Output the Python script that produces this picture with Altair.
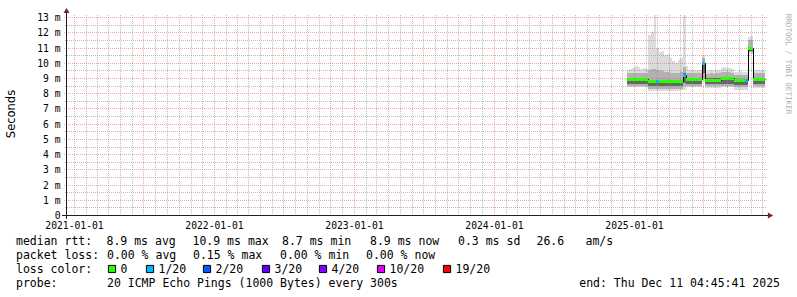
import altair as alt
import pandas as pd

# ---------------- data ----------------
week_start = [
    "2024-12-13", "2024-12-20", "2024-12-27",
    "2025-01-03", "2025-01-10", "2025-01-17", "2025-01-24", "2025-01-31",
    "2025-02-07", "2025-02-14", "2025-02-21", "2025-02-28",
    "2025-03-07", "2025-03-14", "2025-03-21", "2025-03-28",
    "2025-04-04", "2025-04-11", "2025-04-18", "2025-04-25",
    "2025-05-02", "2025-05-09", "2025-05-16", "2025-05-23", "2025-05-30",
    "2025-06-06", "2025-06-13", "2025-06-20", "2025-06-27",
    "2025-07-04", "2025-07-11", "2025-07-18", "2025-07-25",
    "2025-08-01", "2025-08-08", "2025-08-15", "2025-08-22", "2025-08-29",
    "2025-09-05", "2025-09-12", "2025-09-19", "2025-09-26",
    "2025-10-03", "2025-10-10", "2025-10-17", "2025-10-24", "2025-10-31",
    "2025-11-07", "2025-11-14", "2025-11-21", "2025-11-28",
    "2025-12-05",
]
data_end = "2025-12-09"

# smoke (ms): outer light band max/min, middle band, dark band, median
smoke_max = [9.55, 9.6, 9.65, 9.8, 9.75, 9.6, 9.65, 9.6,
             11.8, 12.0, 13.3, 11.0, 10.7, 10.8, 10.5, 10.6,
             10.3, 10.1, 10.0, 10.2, 10.3, 13.2,
             9.8, 9.55, 9.5, 9.5, 9.55, 9.5, 10.5,
             9.45, 9.45, 9.5, 9.45, 9.5, 9.55,
             9.65, 9.7, 9.65, 9.65, 9.6,
             9.4, 9.4, 9.45, 9.4, 9.4,
             11.7, 11.75,
             9.5, 9.5, 9.5, 9.55, 9.5]
smoke_hi2 = [9.3, 9.3, 9.3, 9.35, 9.3, 9.3, 9.3, 9.3,
             9.5, 9.6, 9.6, 9.5, 9.5, 9.45, 9.4, 9.4,
             9.35, 9.3, 9.3, 9.35, 9.4, 9.7,
             9.35, 9.3, 9.3, 9.3, 9.3, 9.3, 10.3,
             9.25, 9.25, 9.3, 9.25, 9.3, 9.3,
             9.4, 9.4, 9.4, 9.4, 9.35,
             9.2, 9.2, 9.2, 9.2, 9.2,
             11.5, 11.5,
             9.3, 9.3, 9.3, 9.3, 9.3]
smoke_hi1 = [9.0, 9.0, 9.0, 9.0, 9.0, 9.0, 9.0, 9.0,
             8.9, 8.9, 8.9, 8.9, 8.9, 8.9, 8.9, 8.9,
             8.9, 8.9, 8.9, 8.9, 8.9, 9.3,
             9.0, 9.0, 9.0, 9.0, 9.0, 9.0, 10.05,
             8.97, 8.97, 8.97, 8.97, 8.97, 8.97,
             9.08, 9.08, 9.08, 9.08, 9.08,
             8.95, 8.95, 8.95, 8.95, 8.95,
             11.03, 11.03,
             9.0, 9.0, 9.0, 9.0, 9.0]
median_rtt = [8.93, 8.93, 8.93, 8.93, 8.93, 8.93, 8.93, 8.93,
              8.8, 8.8, 8.8, 8.8, 8.8, 8.8, 8.8, 8.8,
              8.8, 8.8, 8.8, 8.8, 8.8, 9.2,
              8.93, 8.93, 8.93, 8.93, 8.93, 8.93, 10.0,
              8.88, 8.88, 8.88, 8.88, 8.88, 8.88,
              9.0, 9.0, 9.0, 9.0, 9.0,
              8.87, 8.87, 8.87, 8.87, 8.87,
              10.95, 10.95,
              8.93, 8.93, 8.93, 8.93, 8.93]
smoke_lo1 = [8.6, 8.6, 8.6, 8.6, 8.6, 8.6, 8.6, 8.6,
             8.45, 8.45, 8.45, 8.45, 8.45, 8.45, 8.45, 8.45,
             8.45, 8.45, 8.45, 8.45, 8.45, 8.7,
             8.6, 8.6, 8.6, 8.6, 8.6, 8.6, 9.3,
             8.58, 8.58, 8.58, 8.58, 8.58, 8.58,
             8.62, 8.62, 8.62, 8.62, 8.62,
             8.52, 8.52, 8.52, 8.52, 8.52,
             10.8, 10.8,
             8.6, 8.6, 8.6, 8.6, 8.6]
smoke_lo2 = [8.5, 8.5, 8.5, 8.5, 8.5, 8.5, 8.5, 8.5,
             8.3, 8.3, 8.3, 8.3, 8.3, 8.3, 8.3, 8.3,
             8.3, 8.3, 8.3, 8.3, 8.3, 8.5,
             8.5, 8.5, 8.5, 8.5, 8.5, 8.5, 9.0,
             8.45, 8.45, 8.45, 8.45, 8.45, 8.45,
             8.5, 8.5, 8.5, 8.5, 8.5,
             8.38, 8.38, 8.38, 8.38, 8.38,
             10.7, 10.7,
             8.48, 8.48, 8.48, 8.48, 8.48]
smoke_min = [8.4, 8.4, 8.4, 8.4, 8.4, 8.4, 8.4, 8.4,
             8.15, 8.15, 8.15, 8.15, 8.15, 8.15, 8.15, 8.15,
             8.15, 8.15, 8.15, 8.15, 8.2, 8.2,
             8.38, 8.38, 8.38, 8.38, 8.38, 8.38, 8.75,
             8.35, 8.35, 8.35, 8.35, 8.35, 8.35,
             8.4, 8.4, 8.4, 8.4, 8.4,
             8.22, 8.22, 8.22, 8.22, 8.22,
             10.6, 10.6,
             8.35, 8.35, 8.35, 8.35, 8.35]
loss_bucket = ["0", "0", "0", "0", "0", "0", "0", "0",
               "0", "0", "0", "1/20", "0", "0", "0", "0",
               "0", "0", "0", "0", "0", "1/20",
               "0", "0", "0", "0", "0", "0", "1/20",
               "0", "0", "0", "0", "0", "0",
               "0", "0", "0", "0", "0",
               "0", "0", "0", "0", "1/20",
               "0", "0",
               "0", "0", "0", "0", "0"]

loss_labels = ["0", "1/20", "2/20", "3/20", "4/20", "10/20", "19/20"]
loss_colors = ["#26ff00", "#00b8ff", "#0059ff", "#5e00ff", "#7e00ff", "#dd00ff", "#ff0000"]

y_tick_values = list(range(0, 14))
x_label_years = [2021, 2022, 2023, 2024, 2025]

stats_rtt = ["8.9 ms avg", "10.9 ms max", "8.7 ms min", "8.9 ms now", "0.3 ms sd", "26.6", "am/s"]
stats_loss = ["0.00 % avg", "0.15 % max", "0.00 % min", "0.00 % now"]
probe_text = "20 ICMP Echo Pings (1000 Bytes) every 300s"
end_text = "end: Thu Dec 11 04:45:41 2025"

# ---------------- layout ----------------
MONO = "DejaVu Sans Mono"
SANS = "DejaVu Sans"
W, H = 700, 200
OX, OY = 66, 15
Y_TOP = 13.14

df = pd.DataFrame({
    "date": week_start,
    "end": week_start[1:] + [data_end],
    "mx": smoke_max, "hi2": smoke_hi2, "hi1": smoke_hi1,
    "med": median_rtt, "lo1": smoke_lo1, "lo2": smoke_lo2, "mn": smoke_min,
    "loss": loss_bucket,
})
closing = df.iloc[[-1]].copy()
closing["date"] = data_end
df_area = pd.concat([df, closing], ignore_index=True)

months = [d.strftime("%Y-%m-%d") for d in pd.date_range("2021-01-01", "2025-12-01", freq="MS")]
majors = [m for m in months if m[5:7] in ("01", "07")]
minors = [m for m in months if m not in majors]
grid_minor_v = pd.DataFrame({"m": minors})
grid_major_v = pd.DataFrame({"m": majors})
grid_minor_h = pd.DataFrame({"v": [v + 0.5 for v in range(0, 13)]})
grid_major_h = pd.DataFrame({"v": list(range(1, 14))})

xs = alt.Scale(type="utc", nice=False, round=True, domain=[
    alt.DateTime(year=2020, month=12, date=11, hours=4, minutes=45, seconds=41, utc=True),
    alt.DateTime(year=2025, month=12, date=11, hours=4, minutes=45, seconds=41, utc=True)])
ys = alt.Scale(domain=[0, Y_TOP], nice=False, zero=False, round=True)

x_axis = alt.Axis(values=[alt.DateTime(year=y, month=1, date=1, utc=True) for y in x_label_years],
                  format="%Y-%m-%d", labelFlush=False, labelOverlap=False, grid=False,
                  domain=False, ticks=False, labelPadding=5, title=None,
                  labelFont=MONO, labelFontSize=9.7, labelColor="#000000")
y_axis = alt.Axis(values=y_tick_values, labelExpr="datum.value == 0 ? '0' : datum.value + ' m'",
                  grid=False, domain=False, ticks=False, labelPadding=6, title=None,
                  labelFont=MONO, labelFontSize=9.7, labelColor="#000000")

X = lambda f: alt.X(f, scale=xs, axis=None)
Y = lambda f: alt.Y(f, scale=ys, axis=None)

band_outer = alt.Chart(df_area).mark_area(interpolate="step-after", color="#dcdcdc", clip=True).encode(
    x=alt.X("date:T", scale=xs, axis=x_axis), y=alt.Y("mn:Q", scale=ys, axis=y_axis), y2="mx:Q")
band_mid = alt.Chart(df_area).mark_area(interpolate="step-after", color="#b2b2b2", clip=True).encode(
    x=X("date:T"), y=Y("lo2:Q"), y2="hi2:Q")
band_dark = alt.Chart(df_area).mark_area(interpolate="step-after", color="#666666", clip=True).encode(
    x=X("date:T"), y=Y("lo1:Q"), y2="hi1:Q")

g_minor_v = alt.Chart(grid_minor_v).mark_rule(color="#8f8f8f", opacity=0.6, strokeDash=[1, 1], xOffset=0.5).encode(
    x=X("m:T"), y=alt.value(0), y2=alt.value(H))
g_minor_h = alt.Chart(grid_minor_h).mark_rule(color="#8f8f8f", opacity=0.6, strokeDash=[1, 1], yOffset=0.5).encode(
    y=Y("v:Q"), x=alt.value(-1), x2=alt.value(W + 1))
g_major_v = alt.Chart(grid_major_v).mark_rule(color="#de4f4f", opacity=0.5, strokeDash=[1, 1], xOffset=0.5).encode(
    x=X("m:T"), y=alt.value(0), y2=alt.value(H + 2))
g_major_h = alt.Chart(grid_major_h).mark_rule(color="#de4f4f", opacity=0.5, strokeDash=[1, 1], yOffset=0.5).encode(
    y=Y("v:Q"), x=alt.value(-2), x2=alt.value(W + 2))

median_black = alt.Chart(df_area).mark_line(interpolate="step-after", color="#000000", strokeWidth=1, clip=True,
                                            xOffset=0.5, yOffset=0.5).encode(
    x=X("date:T"), y=Y("med:Q"))
median_color = alt.Chart(df).mark_rule(strokeWidth=3, clip=True, yOffset=0.5).encode(
    x=X("date:T"), x2="end:T", y=Y("med:Q"),
    color=alt.Color("loss:N", scale=alt.Scale(domain=loss_labels, range=loss_colors), legend=None))

one = pd.DataFrame({"k": [0]})
x_axis_line = alt.Chart(one).mark_rule(color="#1f1f1f", strokeWidth=1).encode(
    x=alt.value(-4), x2=alt.value(W + 4), y=alt.value(H + 0.5))
y_axis_line = alt.Chart(one).mark_rule(color="#1f1f1f", strokeWidth=1).encode(
    x=alt.value(0.5), y=alt.value(H + 4), y2=alt.value(-4))
arrow_up = alt.Chart(one).mark_point(shape="triangle-up", filled=True, size=36, color="#801f1f", opacity=1).encode(
    x=alt.value(0.5), y=alt.value(-4.5))
arrow_right = alt.Chart(one).mark_point(shape="triangle-right", filled=True, size=36, color="#801f1f", opacity=1).encode(
    x=alt.value(W + 4.5), y=alt.value(H + 0.5))


def text_item(s, px, py, size=11.5, align="left", font=MONO, color="#000000", angle=0, baseline="alphabetic"):
    return alt.Chart(one).mark_text(text=s.replace(" ", "\u00a0"), align=align, baseline=baseline, font=font,
                                    fontSize=size, color=color, angle=angle).encode(
        x=alt.value(px - OX), y=alt.value(py - OY))


texts = []
texts.append(text_item("Seconds", 11.5, 114, font=SANS, angle=270, align="center", baseline="middle"))
texts.append(text_item("RRDTOOL / TOBI OETIKER", 788, 64, size=7.6, angle=90, align="center",
                       baseline="middle", color="#b0b0b0"))

L1, L2, L3, L4 = 244.5, 258.8, 273.0, 287.3
texts.append(text_item("median rtt:", 16, L1))
for s, px in zip(stats_rtt, [106.5, 192.5, 282, 370, 458, 536.5, 585.5]):
    texts.append(text_item(s, px, L1))
texts.append(text_item("packet loss:", 16, L2))
for s, px in zip(stats_loss, [107, 193, 280, 366]):
    texts.append(text_item(s, px, L2))
texts.append(text_item("loss color:", 16, L3))
square_left = [108, 146, 203, 262, 319, 377, 443]
for lab, col, sx in zip(loss_labels, loss_colors, square_left):
    texts.append(alt.Chart(one).mark_square(size=52, filled=True, fill=col, stroke="#000000", strokeWidth=1,
                                            opacity=1).encode(x=alt.value(sx + 4 - OX), y=alt.value(269 - OY)))
    texts.append(text_item(lab, sx + 12.5, L3))
texts.append(text_item("probe:", 16, L4))
texts.append(text_item(probe_text, 107, L4))
texts.append(text_item(end_text, 780, L4, align="right"))

chart = alt.layer(
    band_outer, band_mid, band_dark,
    g_minor_v, g_minor_h, g_major_v, g_major_h,
    median_black, median_color,
    x_axis_line, y_axis_line, arrow_up, arrow_right,
    *texts,
).resolve_axis(x="independent", y="independent").properties(
    width=W, height=H,
    padding={"left": OX, "top": OY, "right": 797 - OX - W, "bottom": 297 - OY - H},
    autosize=alt.AutoSizeParams(type="none"),
    background="#ffffff",
).configure_view(strokeWidth=0)

chart.save("out.html", embed_options={"renderer": "svg", "actions": False})
